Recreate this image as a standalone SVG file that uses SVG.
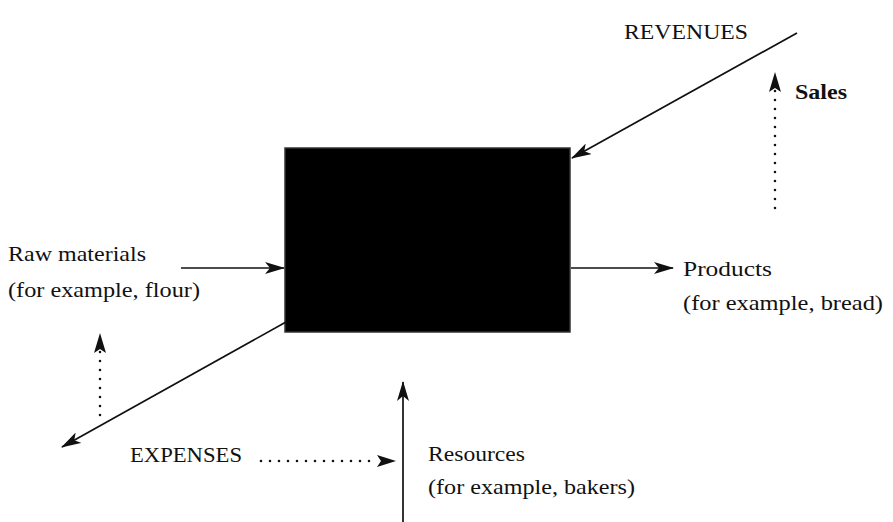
<svg xmlns="http://www.w3.org/2000/svg" width="893" height="522" viewBox="0 0 893 522" font-family="'Liberation Serif', 'DejaVu Serif', serif">
<style>
text{font-family:'Liberation Serif','DejaVu Serif',serif;font-size:22px;fill:#111}
.b{font-weight:bold}
.ln{stroke:#111;stroke-width:1.7;fill:none}
.dt{stroke:#111;stroke-width:2.6;fill:none;stroke-linecap:round;stroke-dasharray:0 9}
</style>
<defs>
<marker id="ah" viewBox="0 0 20 12" refX="19" refY="6" markerWidth="20" markerHeight="12" markerUnits="userSpaceOnUse" orient="auto">
<path d="M0,0 L20,6 L0,12 L5,6 Z" fill="#111"/>
</marker>
</defs>
<rect width="893" height="522" fill="#fff"/>
<g id="process">
<rect x="285" y="148" width="285" height="184" fill="#000" stroke="#333" stroke-width="1.5"/>
</g>
<g id="connectors">
<line class="ln" x1="797" y1="33" x2="572" y2="158" marker-end="url(#ah)"/>
<line class="dt" x1="775" y1="208" x2="775" y2="88"/>
<path d="M775,72 L781,92 L775,88 L769,92 Z" fill="#111"/>
<line class="ln" x1="181" y1="268" x2="284" y2="268" marker-end="url(#ah)"/>
<line class="ln" x1="571" y1="268" x2="673" y2="268" marker-end="url(#ah)"/>
<line class="ln" x1="286" y1="322" x2="62" y2="447" marker-end="url(#ah)"/>
<line class="dt" x1="100" y1="415" x2="100" y2="349"/>
<path d="M100,333 L106,353 L100,349 L94,353 Z" fill="#111"/>
<line class="dt" x1="261" y1="461" x2="376" y2="461"/>
<path d="M396,461 L377,455 L381,461 L377,467 Z" fill="#111"/>
<line class="ln" x1="403" y1="522" x2="403" y2="382" marker-end="url(#ah)"/>
</g>
<g id="revenues"><text x="624" y="39" textLength="124" lengthAdjust="spacingAndGlyphs">REVENUES</text></g>
<g id="sales"><text class="b" x="795" y="99" textLength="52" lengthAdjust="spacingAndGlyphs">Sales</text></g>
<g id="raw-materials">
<text x="8" y="261" textLength="138" lengthAdjust="spacingAndGlyphs">Raw materials</text>
<text x="8" y="297" textLength="192" lengthAdjust="spacingAndGlyphs">(for example, flour)</text>
</g>
<g id="products">
<text x="683" y="276" textLength="89" lengthAdjust="spacingAndGlyphs">Products</text>
<text x="683" y="310" textLength="200" lengthAdjust="spacingAndGlyphs">(for example, bread)</text>
</g>
<g id="expenses"><text x="130" y="462" textLength="112" lengthAdjust="spacingAndGlyphs">EXPENSES</text></g>
<g id="resources">
<text x="428" y="461" textLength="97" lengthAdjust="spacingAndGlyphs">Resources</text>
<text x="428" y="494" textLength="207" lengthAdjust="spacingAndGlyphs">(for example, bakers)</text>
</g>
</svg>
